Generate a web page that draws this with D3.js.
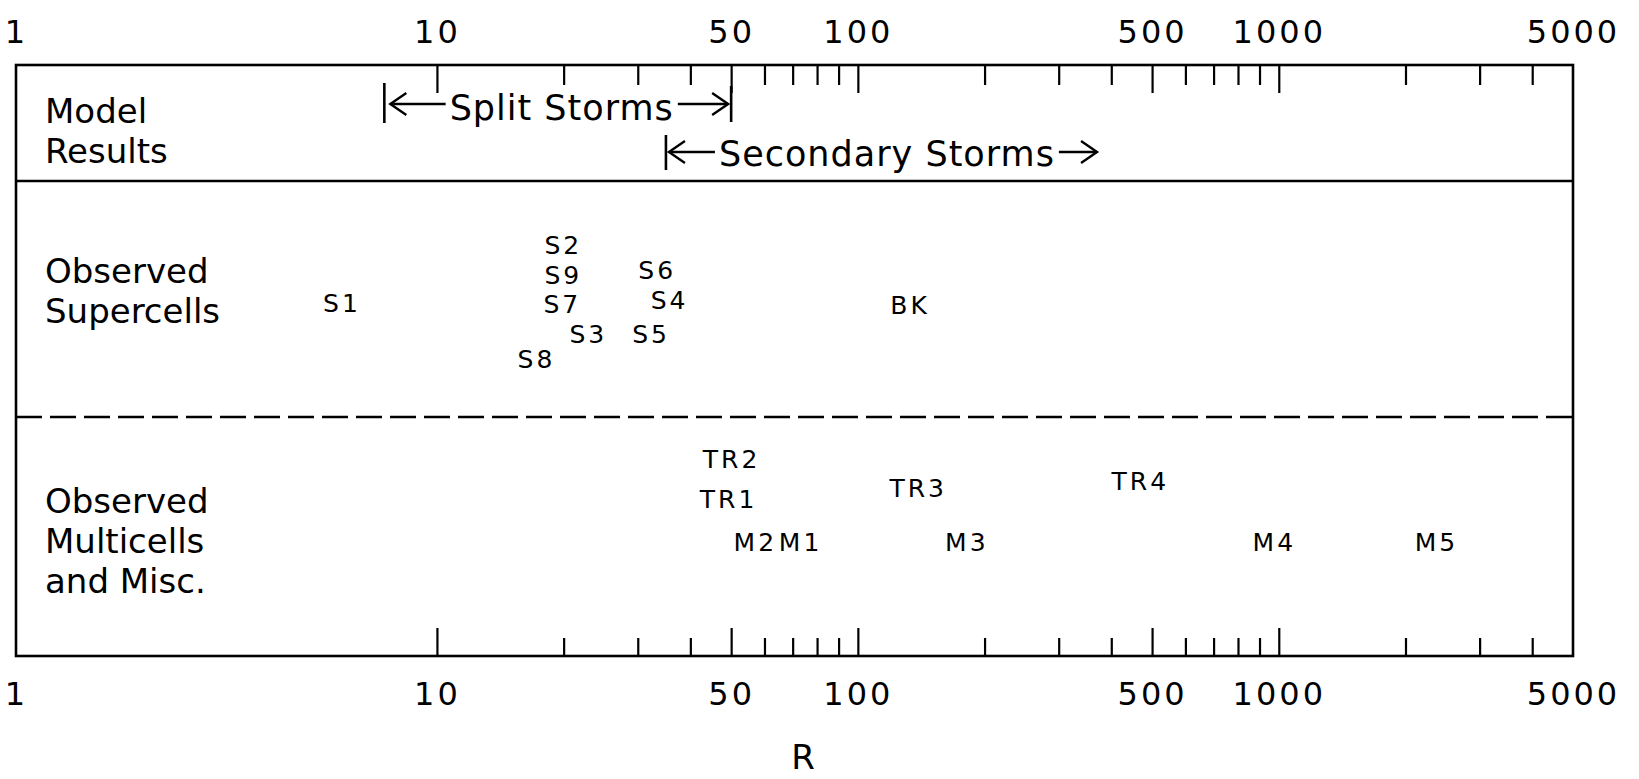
<!DOCTYPE html>
<html>
<head>
<meta charset="utf-8">
<script src="https://cdn.jsdelivr.net/npm/d3@7"></script>
<style>
  body { margin: 0; background: #fff; }
  text { font-family: "DejaVu Sans"; fill: #000; }
</style>
</head>
<body>
<script>
// tick values on the log R axis
var tickLabels = [1, 10, 50, 100, 500, 1000, 5000];
var majorTicks = [10, 50, 100, 500, 1000];
var minorTicks = [20, 30, 40, 60, 70, 80, 90, 200, 300, 400, 600, 700, 800, 900, 2000, 3000, 4000];

// row titles
var rowTitles = [
  ["Model", "Results"],
  ["Observed", "Supercells"],
  ["Observed", "Multicells", "and Misc."]
];

// model result ranges (R)
var splitRange = [7.5, 50];
var secondaryRange = [35, 370];

// observed supercells: name, R, text line within row
var superNames = ["S1", "S2", "S3", "S4", "S5", "S6", "S7", "S8", "S9", "BK"];
var superR     = [5.9, 19.8, 22.7, 35.4, 32, 33.1, 19.7, 17.1, 19.8, 132];
var superLine  = [1.95, 0, 3, 1.85, 3.0, 0.85, 2, 3.85, 1, 2.05];

// observed multicells and misc.
var multiNames = ["TR1", "TR2", "TR3", "TR4", "M1", "M2", "M3", "M4", "M5"];
var multiR     = [48.9, 49.7, 138, 465, 72.5, 56.6, 180, 968, 2349];
var multiLine  = [1.36, 0, 0.98, 0.75, 2.81, 2.81, 2.81, 2.81, 2.81];

var svg = {
  "width" : 1639,
  "height" : 779,
  "left" : 16,
  "right" : 1573,
  "top" : 65,
  "sep" : 181,
  "dash" : 417,
  "bottom" : 656
};

svg.whole = d3.select("body")
              .append("svg")
              .attr("width", svg.width)
              .attr("height", svg.height);

var x = d3.scaleLog()
          .domain([1, 5000])
          .range([svg.left, svg.right]);

// frame
svg.whole.append("rect")
   .attr("x", svg.left)
   .attr("y", svg.top)
   .attr("width", svg.right - svg.left)
   .attr("height", svg.bottom - svg.top)
   .attr("fill", "none")
   .attr("stroke", "black")
   .attr("stroke-width", 2.6);

svg.whole.append("line")
   .attr("x1", svg.left).attr("x2", svg.right)
   .attr("y1", svg.sep).attr("y2", svg.sep)
   .attr("stroke", "black")
   .attr("stroke-width", 2.6);

svg.whole.append("line")
   .attr("x1", svg.left).attr("x2", svg.right)
   .attr("y1", svg.dash).attr("y2", svg.dash)
   .attr("stroke", "black")
   .attr("stroke-width", 2.6)
   .attr("stroke-dasharray", "26,8");

// ticks: top ones hang down, bottom ones stand up
function tickGroup(y, axis) {
  var g = svg.whole.append("g")
             .attr("transform", "translate(0," + y + ")")
             .call(axis);
  g.select(".domain").remove();
  g.selectAll("line").attr("stroke-width", 2.2);
  return g;
}

tickGroup(svg.top, d3.axisBottom(x).tickValues(minorTicks).tickSize(20).tickFormat(""));
tickGroup(svg.top, d3.axisBottom(x).tickValues(majorTicks).tickSize(28).tickFormat(""));
tickGroup(svg.bottom, d3.axisTop(x).tickValues(minorTicks).tickSize(18).tickFormat(""));
tickGroup(svg.bottom, d3.axisTop(x).tickValues(majorTicks).tickSize(28).tickFormat(""));

// tick labels, top and bottom
[43, 705].forEach(function(base) {
  var g = svg.whole.append("g")
             .attr("transform", "translate(0," + base + ")")
             .call(d3.axisTop(x).tickValues(tickLabels).tickSize(0).tickPadding(0).tickFormat(d3.format("d")));
  g.select(".domain").remove();
  g.attr("font-family", null).attr("font-size", null);
  g.selectAll("text")
   .style("font-size", "32px")
   .style("letter-spacing", "3px");
});

// axis title
svg.whole.append("text")
   .attr("x", 803)
   .attr("y", 769)
   .attr("text-anchor", "middle")
   .style("font-size", "34px")
   .text("R");

// row titles
var titleBase = [122.5, 282.5, 513];
rowTitles.forEach(function(lines, i) {
  var t = svg.whole.append("text")
             .attr("x", 45)
             .attr("y", titleBase[i])
             .style("font-size", "34px");
  lines.forEach(function(s, j) {
    t.append("tspan")
     .attr("x", 45)
     .attr("dy", j == 0 ? 0 : 40)
     .text(s);
  });
});

// arrows for model ranges
function arrow(x1, x2, y, headLeft) {
  svg.whole.append("line")
     .attr("x1", x1).attr("x2", x2)
     .attr("y1", y).attr("y2", y)
     .attr("stroke", "black").attr("stroke-width", 2.4);
  var tip = headLeft ? x1 : x2;
  var s = headLeft ? 16 : -16;
  svg.whole.append("path")
     .attr("d", "M" + (tip + s) + "," + (y - 11) + "L" + tip + "," + y + "L" + (tip + s) + "," + (y + 11))
     .attr("fill", "none")
     .attr("stroke", "black")
     .attr("stroke-width", 2.4);
}

function bar(xv, y1, y2) {
  svg.whole.append("line")
     .attr("x1", xv).attr("x2", xv)
     .attr("y1", y1).attr("y2", y2)
     .attr("stroke", "black").attr("stroke-width", 2.6);
}

// split storms
var sx0 = x(splitRange[0]), sx1 = x(splitRange[1]);
bar(sx0, 83, 123);
bar(sx1, 86, 122);
var sMid = (sx0 + sx1) / 2 + 4;
var splitText = svg.whole.append("text")
   .attr("x", sMid)
   .attr("y", 120)
   .attr("text-anchor", "middle")
   .style("font-size", "35px")
   .style("letter-spacing", "1px")
   .text("Split Storms");
var sw = splitText.node().getComputedTextLength();
arrow(sx0 + 6, sMid - sw / 2 - 4, 104, true);
arrow(sMid + sw / 2 + 4, sx1 - 3, 104, false);

// secondary storms
var cx0 = x(secondaryRange[0]), cx1 = x(secondaryRange[1]);
bar(cx0, 135, 170);
var secText = svg.whole.append("text")
   .attr("x", cx0 + 53)
   .attr("y", 166)
   .style("font-size", "35px")
   .style("letter-spacing", "1px")
   .text("Secondary Storms");
var cw = secText.node().getComputedTextLength();
arrow(cx0 + 3, cx0 + 49, 152, true);
arrow(cx0 + 53 + cw + 4, cx1, 152, false);

// observed labels
var line = d3.scaleLinear().domain([0, 1]).range([0, 29.5]);

function labels(names, rs, lines, base) {
  svg.whole.append("g")
     .selectAll("text")
     .data(names)
     .enter()
     .append("text")
     .attr("x", function(d, i) { return x(rs[i]) + 1.5; })
     .attr("y", function(d, i) { return base + line(lines[i]); })
     .attr("dy", "0.36em")
     .attr("text-anchor", "middle")
     .style("font-size", "25px")
     .style("letter-spacing", "3px")
     .text(function(d) { return d; });
}

labels(superNames, superR, superLine, 245);
labels(multiNames, multiR, multiLine, 459);
</script>
</body>
</html>
